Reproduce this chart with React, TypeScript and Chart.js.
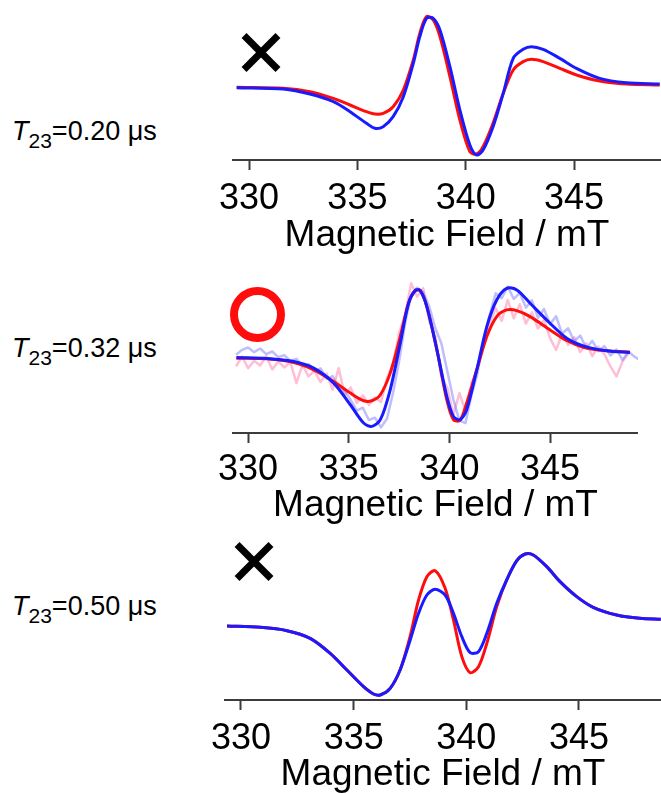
import React, { useEffect, useRef } from "react";
import { Chart, registerables } from "chart.js";

Chart.register(...registerables);

const FONT = "'Liberation Sans', Arial, Helvetica, sans-serif";
const RED = "#ff0d0d";
const BLUE = "#1a1aff";
const NOISE_RED = "rgba(255,110,160,0.45)";
const NOISE_BLUE = "rgba(110,110,255,0.45)";

const fieldTicks = [330, 335, 340, 345];
const axisTitle = "Magnetic Field / mT";
const t23Labels = ["0.20", "0.32", "0.50"];

// Panel 1 (T23 = 0.20 us)
const fields1 = [329.43, 331.58, 332.81, 333.89, 334.66, 335.42, 335.81, 336.19, 336.65, 337.12, 337.58, 337.88, 338.19, 338.5, 338.81, 339.27, 339.73, 340.19, 340.5, 340.8, 341.26, 341.73, 342.19, 342.65, 343.03, 343.57, 344.34, 345.11, 346.18, 347.41, 348.95];
const red1 = [0.1, -0.2, -1.2, -3.2, -5.2, -7.2, -7.9, -7.7, -5.7, -0.7, 8.3, 16.3, 21.3, 20.3, 15.3, 3.3, -9.7, -19.2, -19.9, -17.7, -10.7, -1.7, 5.3, 7.8, 8.5, 7.8, 5.8, 3.8, 2.0, 1.1, 0.8];
const blue1 = [0, -0.4, -1.9, -4.2, -7.2, -10.7, -12.2, -11.7, -8.7, -2.7, 7.3, 15.3, 20.8, 20.8, 17.3, 6.3, -6.7, -17.2, -20.2, -18.7, -11.7, -1.7, 8.8, 11.5, 12.3, 11.5, 8.8, 5.8, 2.8, 1.5, 1.1];

// Panel 2 (T23 = 0.32 us)
const fields2 = [329.42, 330.94, 332.27, 333.26, 334.25, 335.08, 335.74, 336.15, 336.57, 337.06, 337.56, 337.97, 338.3, 338.55, 338.88, 339.38, 339.87, 340.2, 340.53, 340.86, 341.36, 341.86, 342.35, 342.85, 343.35, 344.01, 345.0, 345.83, 346.65, 347.81, 348.97];
const red2 = [0, -0.2, -1.3, -3.5, -7.0, -10.5, -12.8, -12.8, -11.0, -4.5, 6.5, 16.5, 20.3, 20.3, 15.5, 2.5, -12.5, -18.5, -18.7, -13.5, -3.5, 6.5, 12.5, 14.5, 14.3, 12.5, 8.5, 5.3, 3.3, 2.2, 1.8];
const blue2 = [0.2, -0.1, -1.0, -3.0, -7.5, -14.0, -19.5, -20.5, -18.5, -9.5, 4.5, 16.5, 20.3, 20.3, 15.5, 2.5, -11.5, -17.5, -18.5, -15.5, -3.5, 9.5, 17.5, 21.0, 20.5, 16.5, 10.5, 6.0, 3.7, 2.2, 1.7];

// Panel 2 experimental (noisy) traces
const noiseFields = [329.4, 329.7, 330.0, 330.3, 330.6, 330.9, 331.2, 331.5, 331.8, 332.1, 332.4, 332.7, 333.0, 333.3, 333.6, 333.9, 334.2, 334.5, 334.8, 335.1, 335.4, 335.7, 336.0, 336.3, 336.6, 336.9, 337.2, 337.5, 337.8, 338.1, 338.4, 338.7, 339.0, 339.3, 339.6, 339.9, 340.2, 340.5, 340.8, 341.1, 341.4, 341.7, 342.0, 342.3, 342.6, 342.9, 343.2, 343.5, 343.8, 344.1, 344.4, 344.7, 345.0, 345.3, 345.6, 345.9, 346.2, 346.5, 346.8, 347.1, 347.4, 347.7, 348.0, 348.3, 348.6, 348.9, 349.2, 349.5];
const noiseBlue2 = [1.0, 2.5, 3.2, 1.8, 2.9, 1.2, 2.0, 0.3, 0.9, -0.8, -0.2, -2.4, -1.8, -3.9, -3.1, -6.2, -5.4, -8.9, -9.8, -12.6, -15.8, -14.9, -18.6, -17.9, -20.8, -18.2, -10.5, -1.0, 10.5, 19.0, 21.2, 19.8, 15.5, 9.0, 4.5, -4.0, -12.5, -18.8, -19.5, -11.0, -4.5, 6.0, 13.0, 19.5, 18.0, 21.5, 17.8, 19.6, 15.2, 17.4, 12.1, 14.8, 10.2, 12.6, 7.4, 9.0, 5.1, 6.8, 3.0, 5.2, 2.1, 3.6, 0.8, 2.6, -0.5, 1.9, 0.4, -0.8];
const noiseRed2 = [-2.5, 0.5, -3.0, -0.8, -2.2, 0.6, -3.4, -1.0, -2.8, -1.2, -7.5, -2.0, -5.5, -3.8, -7.2, -4.6, -9.5, -3.0, -11.0, -8.8, -13.5, -11.2, -14.0, -11.8, -13.2, -6.0, -1.5, 7.5, 13.0, 22.5, 18.5, 21.0, 11.0, 6.5, -5.5, -9.0, -17.0, -10.5, -16.0, -7.5, -3.0, 5.0, 10.5, 15.0, 11.2, 17.5, 12.0, 16.2, 10.4, 13.8, 8.9, 11.5, 6.0, 2.5, 7.2, 4.0, 6.3, 1.8, 4.5, 0.6, 3.5, 1.2, -2.5, -5.5, -1.0, 1.5, null, null];

// Panel 3 (T23 = 0.50 us)
const fields3 = [329.38, 330.86, 332.04, 333.07, 333.96, 334.7, 335.44, 335.88, 336.18, 336.62, 337.06, 337.51, 337.88, 338.25, 338.62, 339.06, 339.43, 339.8, 340.17, 340.54, 340.91, 341.35, 341.79, 342.24, 342.61, 342.97, 343.57, 344.16, 344.9, 345.63, 346.67, 347.7, 348.63];
const red3 = [0, -0.4, -1.4, -3.7, -8.2, -13.2, -18.2, -20.4, -20.7, -18.7, -13.2, -3.0, 7.8, 14.8, 16.6, 11.3, 1.8, -9.2, -14.0, -12.2, -5.2, 5.8, 13.8, 19.6, 21.6, 21.3, 17.8, 13.3, 8.8, 5.6, 3.3, 2.3, 2.0];
const blue3 = [0, -0.4, -1.4, -3.7, -8.2, -13.2, -18.2, -20.4, -20.7, -18.7, -13.2, -4.2, 3.8, 9.3, 11.0, 9.3, 3.8, -3.2, -8.0, -7.7, -2.2, 6.8, 13.8, 19.6, 21.6, 21.3, 17.8, 13.3, 8.8, 5.6, 3.3, 2.3, 2.0];

type Series = {
  fields: number[];
  values: (number | null)[];
  color: string;
  width: number;
  order: number;
  tension: number;
};

type PanelProps = {
  series: Series[];
  xMin: number;
  xMax: number;
  yMin: number;
  yMax: number;
  left: number;
  top: number;
  width: number;
  axisY: number;
  padLeft: number;
  tickPad: number;
  titlePadTop: number;
};

const TICK_LEN = 10;
const TICK_FONT = 36;
const TITLE_FONT = 37;
const TITLE_PAD_BOTTOM = 6;

function Panel(p: PanelProps) {
  const ref = useRef<HTMLCanvasElement | null>(null);
  const scaleH = TICK_LEN + 2 * p.tickPad + TICK_FONT + TITLE_FONT + p.titlePadTop + TITLE_PAD_BOTTOM;
  const height = Math.round(p.axisY - p.top + scaleH);

  useEffect(() => {
    if (!ref.current) return;
    const chart = new Chart(ref.current, {
      type: "line",
      data: {
        datasets: p.series.map((s) => ({
          data: s.fields.map((f, i) => ({ x: f, y: s.values[i] })),
          borderColor: s.color,
          backgroundColor: s.color,
          borderWidth: s.width,
          pointRadius: 0,
          tension: s.tension,
          fill: false,
          order: s.order,
          borderJoinStyle: "round" as const,
        })),
      },
      options: {
        responsive: false,
        animation: false,
        events: [],
        layout: { padding: { left: p.padLeft, right: 0, top: 0, bottom: 0 } },
        plugins: { legend: { display: false }, tooltip: { enabled: false } },
        scales: {
          x: {
            type: "linear",
            position: "bottom",
            min: p.xMin,
            max: p.xMax,
            afterBuildTicks: (axis: any) => {
              axis.ticks = fieldTicks.map((v) => ({ value: v }));
            },
            border: { display: true, color: "#3c3c3c", width: 2 },
            grid: {
              drawOnChartArea: false,
              drawTicks: true,
              tickLength: TICK_LEN,
              tickWidth: 2,
              tickColor: "#3c3c3c",
            },
            ticks: {
              padding: p.tickPad,
              color: "#000",
              autoSkip: false,
              maxRotation: 0,
              font: { family: FONT, size: TICK_FONT, lineHeight: 1 },
              callback: (v: any) => String(v),
            },
            title: {
              display: true,
              text: axisTitle,
              color: "#000",
              font: { family: FONT, size: TITLE_FONT, lineHeight: 1 },
              padding: { top: p.titlePadTop, bottom: TITLE_PAD_BOTTOM },
            },
          },
          y: { display: false, min: p.yMin, max: p.yMax },
        },
      },
    });
    return () => chart.destroy();
  }, []);

  return (
    <canvas
      ref={ref}
      width={p.width}
      height={height}
      style={{ position: "absolute", left: p.left, top: p.top, width: p.width, height }}
    />
  );
}

function TLabel({ value, baseline }: { value: string; baseline: number }) {
  return (
    <div
      style={{
        position: "absolute",
        left: 12,
        top: baseline - 23,
        fontFamily: FONT,
        fontSize: 27,
        lineHeight: "27px",
        whiteSpace: "nowrap",
        color: "#000",
      }}
    >
      <span style={{ fontStyle: "italic" }}>T</span>
      <span style={{ fontSize: 21, position: "relative", top: 8 }}>23</span>
      {`=${value} \u03bcs`}
    </div>
  );
}

function Cross({ cx, cy }: { cx: number; cy: number }) {
  const L = 48;
  const t = 7;
  const bar = (deg: number) => (
    <div
      style={{
        position: "absolute",
        left: cx - L / 2,
        top: cy - t / 2,
        width: L,
        height: t,
        background: "#000",
        transform: `rotate(${deg}deg)`,
      }}
    />
  );
  return (
    <>
      {bar(45)}
      {bar(-45)}
    </>
  );
}

function Ring({ cx, cy }: { cx: number; cy: number }) {
  const D = 55;
  return (
    <div
      style={{
        position: "absolute",
        left: cx - D / 2,
        top: cy - D / 2,
        width: D,
        height: D,
        boxSizing: "border-box",
        border: `8.5px solid ${RED}`,
        borderRadius: "50%",
      }}
    />
  );
}

export default function App() {
  return (
    <div
      style={{
        position: "fixed",
        left: 0,
        top: 0,
        width: 661,
        height: 793,
        overflow: "hidden",
        background: "#fff",
      }}
    >
      <Panel
        series={[
          { fields: fields1, values: blue1, color: BLUE, width: 3, order: 0, tension: 0.3 },
          { fields: fields1, values: red1, color: RED, width: 3, order: 1, tension: 0.3 },
        ]}
        xMin={329.26}
        xMax={349.01}
        yMin={-21.7}
        yMax={24.8}
        left={203}
        top={5}
        width={458}
        axisY={160}
        padLeft={30}
        tickPad={11.5}
        titlePadTop={-12}
      />
      <Panel
        series={[
          { fields: fields2, values: blue2, color: BLUE, width: 3, order: 0, tension: 0.3 },
          { fields: fields2, values: red2, color: RED, width: 3, order: 1, tension: 0.3 },
          { fields: noiseFields, values: noiseBlue2, color: NOISE_BLUE, width: 2.5, order: 2, tension: 0 },
          { fields: noiseFields, values: noiseRed2, color: NOISE_RED, width: 2.5, order: 3, tension: 0 },
        ]}
        xMin={329.25}
        xMax={349.37}
        yMin={-22.5}
        yMax={25}
        left={203}
        top={275}
        width={435}
        axisY={433}
        padLeft={30}
        tickPad={9.5}
        titlePadTop={-11}
      />
      <Panel
        series={[
          { fields: fields3, values: blue3, color: BLUE, width: 3, order: 0, tension: 0.3 },
          { fields: fields3, values: red3, color: RED, width: 3, order: 1, tension: 0.3 },
        ]}
        xMin={329.29}
        xMax={348.64}
        yMin={-22.2}
        yMax={24.9}
        left={195}
        top={543}
        width={466}
        axisY={700}
        padLeft={30}
        tickPad={11.5}
        titlePadTop={-13}
      />
      <TLabel value={t23Labels[0]} baseline={140.5} />
      <TLabel value={t23Labels[1]} baseline={357.5} />
      <TLabel value={t23Labels[2]} baseline={616} />
      <Cross cx={260.5} cy={52} />
      <Ring cx={257.5} cy={314.5} />
      <Cross cx={254} cy={561} />
    </div>
  );
}
